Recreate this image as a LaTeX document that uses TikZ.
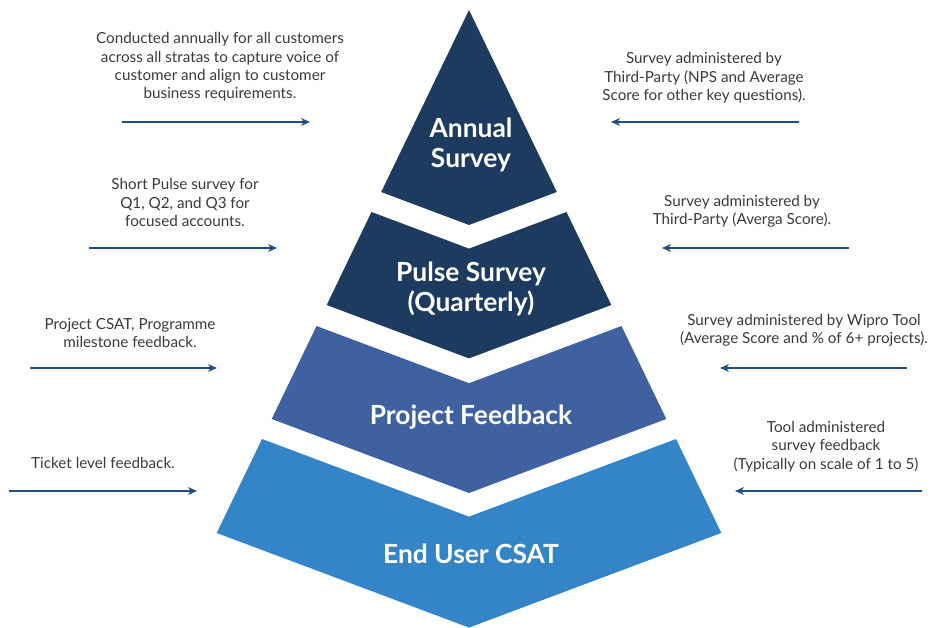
\documentclass[tikz,border=0pt]{standalone}
\usepackage{fontspec}
\setmainfont{Lato}
\usetikzlibrary{arrows.meta}
\definecolor{navy}{HTML}{1D3A5F}
\definecolor{midblue}{HTML}{4061A0}
\definecolor{skyblue}{HTML}{3385C7}
\definecolor{flowblue}{HTML}{1F4E82}
\definecolor{notegray}{HTML}{3A3A3A}
\tikzset{
    note/.style={align=center, text=notegray, inner sep=0pt,
    	font=\fontsize{13}{15.7}\selectfont},
    tierlabel/.style={align=center, text=white, inner sep=0pt,
    	font=\fontsize{22.5}{25.5}\selectfont\bfseries},
    flow/.style={draw=flowblue, line width=1.2pt,
    	-{Stealth[length=7.5pt, width=6.5pt, inset=2pt]}}
}

\begin{document}
\begin{tikzpicture}[x=0.03cm, y=-0.03cm]
  \useasboundingbox (0,0) rectangle (932,628);

  \fill[navy] (469,10) -- (556.8,192) -- (469,225) -- (381.2,192) -- cycle;
  \fill[navy] (371.5,212) -- (469,248.6) -- (566.5,212) -- (611.3,305)
    -- (469,358.4) -- (326.7,305) -- cycle;
  \fill[midblue] (316.5,326) -- (469,383.2) -- (621.5,326) -- (666.3,419)
    -- (469,493) -- (271.7,419) -- cycle;
  \fill[skyblue] (262,439) -- (469,516.6) -- (676,439) -- (721.3,533)
    -- (469,627.6) -- (216.7,533) -- cycle;

  \node (annual) [tierlabel] at (471,145) {Annual\\Survey};
  \node (pulse) [tierlabel] at (471,289) {Pulse Survey\\(Quarterly)};
  \node (project) [tierlabel] at (471,417) {Project Feedback};
  \node (csat) [tierlabel] at (471,554) {End User CSAT};

  \node (l1) [note] at (220,67) {Conducted annually for all customers\\across all stratas to capture voice of\\customer and align to customer\\business requirements.};
  \node (l2) [note] at (185,202.5) {Short Pulse survey for\\Q1, Q2, and Q3 for\\focused accounts.};
  \node (l3) [note] at (130,333) {Project CSAT, Programme\\milestone feedback.};
  \node (l4) [note] at (103,463) {Ticket level feedback.};

  \node (r1) [note] at (704,78) {Survey administered by\\Third-Party (NPS and Average\\Score for other key questions).};
  \node (r2) [note] at (742,211.5) {Survey administered by\\Third-Party (Averga Score).};
  \node (r3) [note] at (804,330.5) {Survey administered by Wipro Tool\\(Average Score and \% of 6+ projects).};
  \node (r4) [note] at (826,446.5) {Tool administered\\survey feedback\\(Typically on scale of 1 to 5)};

  \coordinate (l1a) at (122,122);
  \coordinate (l1b) at (310,122);
  \coordinate (l2a) at (89,248);
  \coordinate (l2b) at (277,248);
  \coordinate (l3a) at (30,368);
  \coordinate (l3b) at (217,368);
  \coordinate (l4a) at (9,491);
  \coordinate (l4b) at (197,491);

  \coordinate (r1a) at (799,122);
  \coordinate (r1b) at (611,122);
  \coordinate (r2a) at (849,248);
  \coordinate (r2b) at (662,248);
  \coordinate (r3a) at (907,368);
  \coordinate (r3b) at (720,368);
  \coordinate (r4a) at (922,491);
  \coordinate (r4b) at (735,491);

  \draw[flow] (l1a) -- (l1b);
  \draw[flow] (l2a) -- (l2b);
  \draw[flow] (l3a) -- (l3b);
  \draw[flow] (l4a) -- (l4b);

  \draw[flow] (r1a) -- (r1b);
  \draw[flow] (r2a) -- (r2b);
  \draw[flow] (r3a) -- (r3b);
  \draw[flow] (r4a) -- (r4b);
\end{tikzpicture}
\end{document}
